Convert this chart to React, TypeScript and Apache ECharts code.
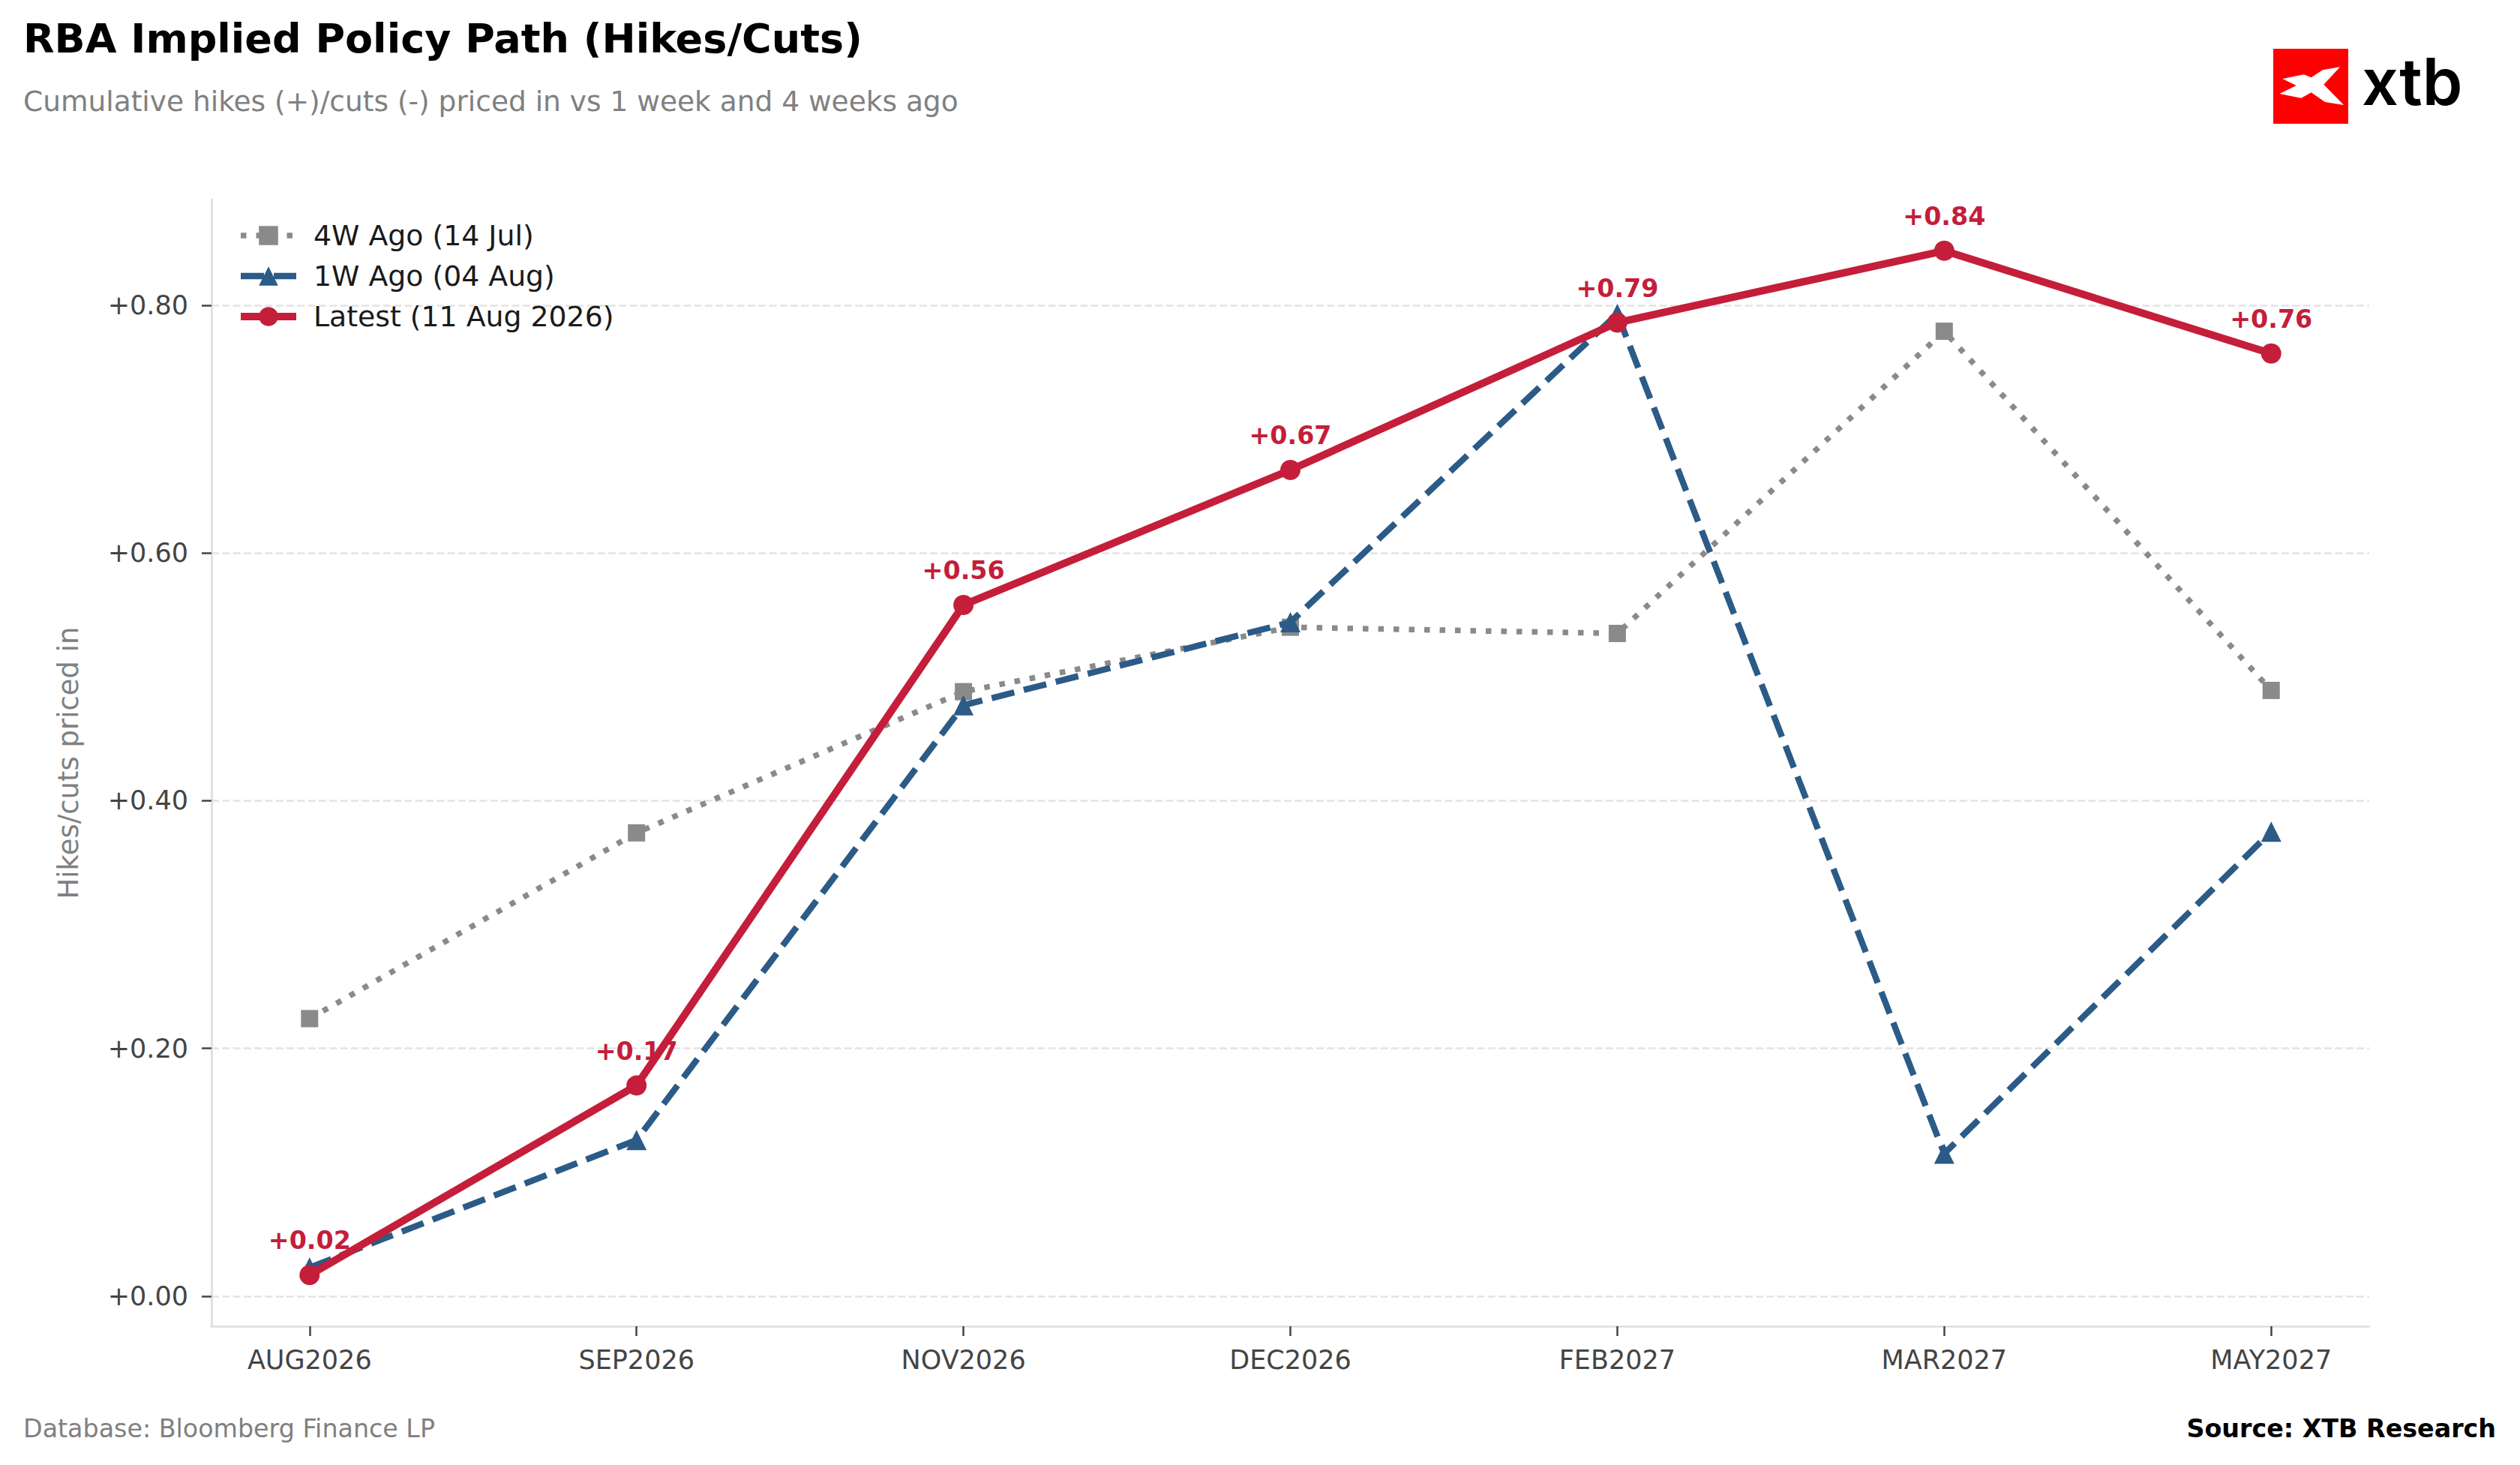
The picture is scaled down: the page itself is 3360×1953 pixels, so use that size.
import React, { useEffect, useRef } from "react";
import * as echarts from "echarts";

const CATEGORIES = ["AUG2026", "SEP2026", "NOV2026", "DEC2026", "FEB2027", "MAR2027", "MAY2027"];
const LATEST = [0.017, 0.170, 0.558, 0.667, 0.786, 0.844, 0.761];
const WEEK1 = [0.023, 0.126, 0.477, 0.544, 0.793, 0.115, 0.375];
const WEEK4 = [0.224, 0.374, 0.488, 0.540, 0.535, 0.779, 0.489];
const Y_TICKS = [0, 0.2, 0.4, 0.6, 0.8];
const SERIES_NAMES = ["4W Ago (14 Jul)", "1W Ago (04 Aug)", "Latest (11 Aug 2026)"];

const TITLE = "RBA Implied Policy Path (Hikes/Cuts)";
const SUBTITLE = "Cumulative hikes (+)/cuts (-) priced in vs 1 week and 4 weeks ago";
const Y_NAME = "Hikes/cuts priced in";
const FOOT_LEFT = "Database: Bloomberg Finance LP";
const FOOT_RIGHT = "Source: XTB Research";

const FONT = '"DejaVu Sans", sans-serif';
const RED = "#C41E3A";
const BLUE = "#2B5B86";
const GRAY = "#8A8A8A";

// XTB logo mark (normalised 0..100 inside red square)
const LOGO_MARK = [
  [12.3, 40], [40.7, 34.3], [50.7, 38.3], [65.7, 28.3], [89, 24.3], [67.3, 47.7],
  [94, 75], [69, 71], [50.7, 58.3], [37.3, 65.7], [8.3, 60], [30.7, 49],
];

export default function App() {
  const ref = useRef<HTMLDivElement>(null);

  useEffect(() => {
    if (!ref.current) return;
    const chart = echarts.init(ref.current, null, { renderer: "svg" });

    const all = [...LATEST, ...WEEK1, ...WEEK4];
    const dMin = Math.min(...all);
    const dMax = Math.max(...all);
    const pad = (dMax - dMin) * 0.05;
    const n = CATEGORIES.length;
    const xPad = (n - 1) * 0.05;

    const toPairs = (arr: number[]) => arr.map((v, i) => [i, v]);
    const idx = CATEGORIES.map((_, i) => i);

    const sq = { x: 3031, y: 65, s: 100 };

    chart.setOption({
      animation: false,
      backgroundColor: "#ffffff",
      textStyle: { fontFamily: FONT },
      grid: { left: 282, right: 201, top: 266, bottom: 185, containLabel: false },
      legend: {
        orient: "vertical",
        left: 311,
        top: 290,
        itemWidth: 74,
        itemHeight: 32,
        itemGap: 16,
        selectedMode: false,
        lineStyle: { width: "inherit", type: "inherit" },
        textStyle: { fontSize: 37.8, color: "#1a1a1a", fontFamily: FONT, padding: [0, 0, 0, 18] },
        data: SERIES_NAMES,
      },
      xAxis: {
        type: "value",
        min: -xPad,
        max: n - 1 + xPad,
        axisLine: { show: true, onZero: false, lineStyle: { color: "#dedede", width: 2.7 } },
        axisTick: { show: true, customValues: idx, length: 13, lineStyle: { color: "#444444", width: 2.5 } },
        axisLabel: {
          show: true,
          customValues: idx,
          margin: 27,
          fontSize: 35,
          color: "#444444",
          fontFamily: FONT,
          formatter: (v: number) => CATEGORIES[Math.round(v)] ?? "",
        },
        splitLine: { show: false },
      },
      yAxis: {
        type: "value",
        min: dMin - pad,
        max: dMax + pad,
        name: Y_NAME,
        nameLocation: "middle",
        nameGap: 172,
        nameRotate: 90,
        nameTextStyle: { color: "#808080", fontSize: 37, fontFamily: FONT },
        axisLine: { show: true, onZero: false, lineStyle: { color: "#dedede", width: 2.7 } },
        axisTick: { show: true, customValues: Y_TICKS, length: 13, lineStyle: { color: "#444444", width: 2.5 } },
        axisLabel: {
          show: true,
          customValues: Y_TICKS,
          margin: 31,
          fontSize: 35,
          color: "#444444",
          fontFamily: FONT,
          formatter: (v: number) => (v >= 0 ? "+" : "") + v.toFixed(2),
        },
        splitLine: {
          show: true,
          lineStyle: { color: "#e3e3e3", width: 2.7, type: [10, 4.3] },
        },
      },
      series: [
        {
          name: SERIES_NAMES[0],
          type: "line",
          data: toPairs(WEEK4),
          clip: false,
          z: 2,
          symbol: "rect",
          symbolSize: 23,
          itemStyle: { color: GRAY },
          lineStyle: { color: GRAY, width: 7.5, type: [7.5, 13] },
          emphasis: { disabled: true },
        },
        {
          name: SERIES_NAMES[1],
          type: "line",
          data: toPairs(WEEK1),
          clip: false,
          z: 3,
          symbol: "triangle",
          symbolSize: 27,
          itemStyle: { color: BLUE },
          lineStyle: { color: BLUE, width: 8.3, type: [31, 13] },
          emphasis: { disabled: true },
        },
        {
          name: SERIES_NAMES[2],
          type: "line",
          data: toPairs(LATEST),
          clip: false,
          z: 4,
          symbol: "circle",
          symbolSize: 27,
          itemStyle: { color: RED },
          lineStyle: { color: RED, width: 10 },
          emphasis: { disabled: true },
          label: {
            show: true,
            position: "top",
            distance: 16,
            color: RED,
            fontWeight: "bold",
            fontSize: 33.3,
            fontFamily: FONT,
            formatter: (p: any) => "+" + Number(p.value[1]).toFixed(2),
          },
        },
      ],
      graphic: [
        {
          type: "text",
          x: 31,
          y: 51.5,
          style: {
            text: TITLE,
            fill: "#000000",
            font: `bold 54px ${FONT}`,
            textAlign: "left",
            textVerticalAlign: "middle",
            align: "left",
            verticalAlign: "middle",
          },
        },
        {
          type: "text",
          x: 31,
          y: 135,
          style: {
            text: SUBTITLE,
            fill: "#808080",
            font: `37.5px ${FONT}`,
            textAlign: "left",
            textVerticalAlign: "middle",
            align: "left",
            verticalAlign: "middle",
          },
        },
        {
          type: "text",
          x: 31,
          y: 1904,
          style: {
            text: FOOT_LEFT,
            fill: "#808080",
            font: `33.3px ${FONT}`,
            textAlign: "left",
            textVerticalAlign: "middle",
            align: "left",
            verticalAlign: "middle",
          },
        },
        {
          type: "text",
          x: 3328,
          y: 1904,
          style: {
            text: FOOT_RIGHT,
            fill: "#000000",
            font: `bold 33.3px ${FONT}`,
            textAlign: "right",
            textVerticalAlign: "middle",
            align: "right",
            verticalAlign: "middle",
          },
        },
        {
          type: "rect",
          shape: { x: sq.x, y: sq.y, width: sq.s, height: sq.s },
          style: { fill: "#FF0000" },
        },
        {
          type: "polygon",
          shape: { points: LOGO_MARK.map(([px, py]) => [sq.x + (px * sq.s) / 100, sq.y + (py * sq.s) / 100]) },
          style: { fill: "#FFFFFF" },
        },
        {
          type: "text",
          x: 3149,
          y: 109,
          style: {
            text: "xtb",
            fill: "#000000",
            font: `600 86px Inter, "DejaVu Sans", sans-serif`,
            textAlign: "left",
            textVerticalAlign: "middle",
            align: "left",
            verticalAlign: "middle",
          },
        },
      ],
    });

    return () => chart.dispose();
  }, []);

  return (
    <div
      ref={ref}
      style={{ position: "fixed", left: 0, top: 0, width: 3360, height: 1953, background: "#fff" }}
    />
  );
}
